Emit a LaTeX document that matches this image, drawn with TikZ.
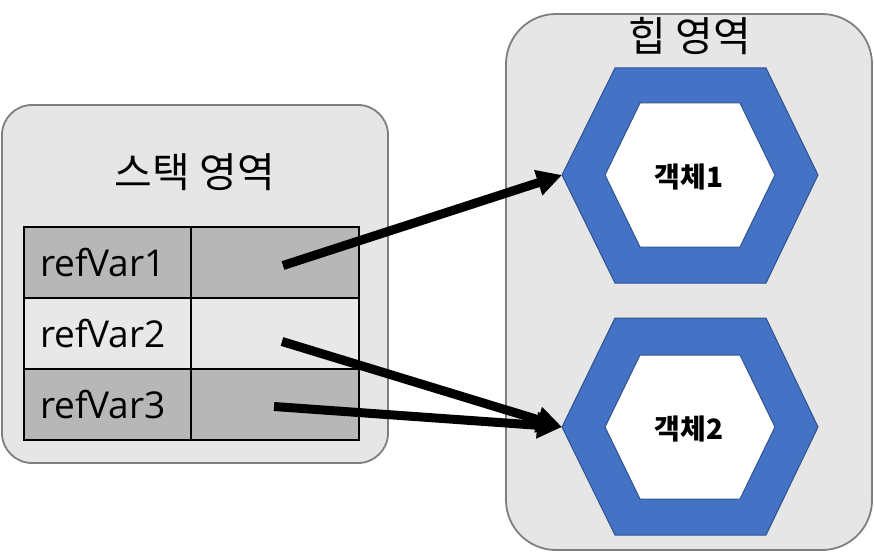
\documentclass[tikz,border=0pt]{standalone}
\usepackage{fontspec}
\setmainfont{Open Sans}
\newfontfamily\kr{Noto Sans CJK KR}
\usetikzlibrary{arrows.meta}
\definecolor{boxfill}{HTML}{E6E6E6}
\definecolor{boxline}{HTML}{7F7F7F}
\definecolor{darkcell}{HTML}{B7B7B7}
\definecolor{lightcell}{HTML}{E8E8E8}
\definecolor{hexblue}{HTML}{4472C4}
\definecolor{hexline}{HTML}{2F528F}
\tikzset{
  region/.style={draw=boxline, line width=1.8pt, fill=boxfill},
  cell/.style={draw=black, line width=1.5pt, minimum height=71pt, inner sep=0pt, outer sep=0pt},
  namecell/.style={cell, minimum width=168pt, text width=136pt, align=left, font=\fontsize{37}{40}\selectfont},
  valcell/.style={cell, minimum width=168pt},
  title/.style={font=\kr\fontsize{41}{44}\selectfont, inner sep=0pt},
  objlabel/.style={font=\kr\bfseries\fontsize{28}{30}\selectfont, inner sep=0pt},
  hexouter/.style={fill=hexblue, draw=hexline, line width=1pt},
  hexinner/.style={fill=white, draw=hexline, line width=1pt},
  ref/.style={line width=9pt, -{Triangle[length=25pt,width=25pt]}}
}
\begin{document}
\begin{tikzpicture}[x=1pt,y=-1pt]
\useasboundingbox (0,0) rectangle (874,553);
% stack region
\draw[region, rounded corners=30pt] (2,105) rectangle (388,463);
\node[title] (stacktitle) at (195,172) {스택 영역};
% table
\node[namecell, fill=darkcell, anchor=north west] (n1) at (24,227) {refVar1};
\node[valcell, fill=darkcell, anchor=north west] (v1) at (191,227) {};
\node[namecell, fill=lightcell, anchor=north west] (n2) at (24,298) {refVar2};
\node[valcell, fill=lightcell, anchor=north west] (v2) at (191,298) {};
\node[namecell, fill=darkcell, anchor=north west] (n3) at (24,369) {refVar3};
\node[valcell, fill=darkcell, anchor=north west] (v3) at (191,369) {};
% heap region
\draw[region, rounded corners=50pt] (506,14) rectangle (872,550);
\node[title] (heaptitle) at (690,36) {힙 영역};
% object 1
\draw[hexouter] (562,175) -- (615,68) -- (766,68) -- (818,175) -- (766,283) -- (615,283) -- cycle;
\draw[hexinner] (605,175) -- (640,103) -- (740,103) -- (775,175) -- (740,247) -- (640,247) -- cycle;
\node[objlabel] (o1) at (689,177) {객체1};
\coordinate (h1) at (562,175);
% object 2
\draw[hexouter] (562,427) -- (615,318) -- (766,318) -- (818,427) -- (766,535) -- (615,535) -- cycle;
\draw[hexinner] (605,427) -- (640,355) -- (740,355) -- (775,427) -- (740,499) -- (640,499) -- cycle;
\node[objlabel] (o2) at (689,429) {객체2};
\coordinate (h2) at (562,427);
% references
\draw[ref] ([shift={(8,3)}]v1.center) -- (h1);
\draw[ref] ([shift={(7,8)}]v2.center) -- (h2);
\draw[ref] ([shift={(-1,2)}]v3.center) -- (h2);
\end{tikzpicture}
\end{document}
